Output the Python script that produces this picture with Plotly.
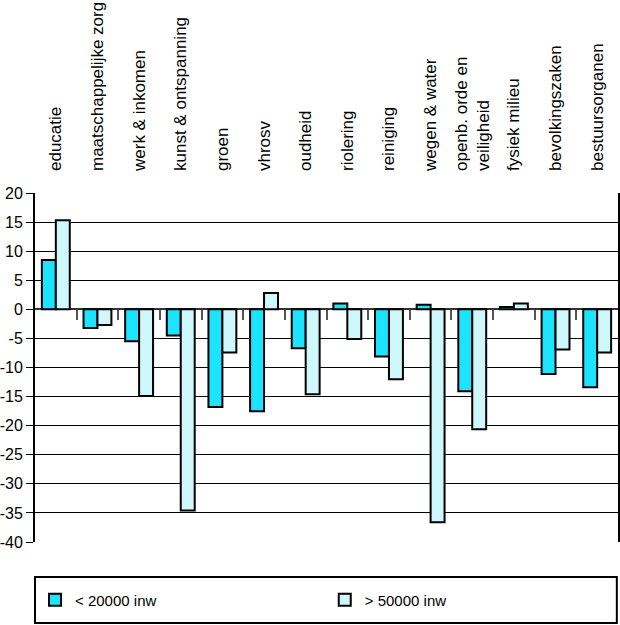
import plotly.graph_objects as go

categories = ["educatie", "maatschappelijke zorg", "werk & inkomen", "kunst & ontspanning",
              "groen", "vhrosv", "oudheid", "riolering", "reiniging", "wegen & water",
              "openb. orde en<br>veiligheid", "fysiek milieu", "bevolkingszaken", "bestuursorganen"]
small_gemeenten = [8.5, -3.2, -5.5, -4.5, -16.8, -17.5, -6.7, 1.0, -8.1, 0.8, -14.1, 0.4, -11.1, -13.4]
large_gemeenten = [15.3, -2.7, -14.9, -34.6, -7.4, 2.8, -14.6, -5.1, -12.0, -36.6, -20.6, 1.0, -6.9, -7.4]
series_names = ["< 20000 inw", "> 50000 inw"]
y_ticks = [20, 15, 10, 5, 0, -5, -10, -15, -20, -25, -30, -35, -40]
y_tick_labels = [str(v) for v in y_ticks]

font = "Liberation Sans, Arial, sans-serif"
fig = go.Figure()
fig.add_trace(go.Bar(x=categories, y=small_gemeenten, name=series_names[0], legend="legend",
                     marker=dict(color="#1CE4FF", line=dict(color="black", width=2))))
fig.add_trace(go.Bar(x=categories, y=large_gemeenten, name=series_names[1], legend="legend2",
                     marker=dict(color="#CFF8FC", line=dict(color="black", width=2))))
# invisible trace for boundary tick axis
n = len(categories)
fig.add_trace(go.Scatter(x=[-0.5, n - 0.5], y=[0, 0], xaxis="x2", mode="markers",
                         marker=dict(opacity=0), showlegend=False, hoverinfo="skip"))

ymin, ymax = -40, 20
leg_common = dict(orientation="h", yanchor="middle", y=-0.166, xanchor="left",
                  font=dict(size=15, family=font), bgcolor="rgba(0,0,0,0)", borderwidth=0)
fig.update_layout(
    width=620, height=625,
    margin=dict(l=35, r=2, t=193, b=83, autoexpand=False),
    paper_bgcolor="white", plot_bgcolor="white",
    font=dict(family=font, color="black", size=13),
    barmode="group", bargap=0.33, bargroupgap=0,
    showlegend=True,
    legend=dict(x=0.0, **leg_common),
    legend2=dict(x=0.497, **leg_common),
    shapes=[dict(type="rect", xref="paper", yref="paper", x0=0, x1=0.998, y0=-0.232, y1=-0.100,
                 line=dict(color="black", width=2), fillcolor="rgba(0,0,0,0)", layer="below")],
    xaxis=dict(side="top", tickangle=-90, ticks="", showline=False, showgrid=False,
               automargin=False, ticklabelstandoff=21,
               tickfont=dict(size=17, family=font), range=[-0.5, n - 0.5]),
    xaxis2=dict(overlaying="x", anchor="free", position=(0 - ymin) / (ymax - ymin),
                range=[-0.5, n - 0.5], tickvals=[i + 0.5 for i in range(n - 1)],
                ticks="outside", ticklen=10, tickwidth=2, tickcolor="#555555",
                showticklabels=False, showgrid=False, showline=False, zeroline=False),
    yaxis=dict(range=[ymin, ymax], tickvals=y_ticks, ticktext=y_tick_labels,
               showgrid=True, gridcolor="black",
               gridwidth=1, zeroline=True, zerolinecolor="#333333", zerolinewidth=1.5,
               showline=True, linecolor="black", linewidth=2, mirror=True,
               ticks="outside", ticklen=7, tickcolor="black", automargin=False,
               tickfont=dict(size=16, family=font)),
)
fig.write_html("out.html", config={"displayModeBar": False},
               post_script="document.body.style.margin='0';document.body.style.overflow='hidden';")
